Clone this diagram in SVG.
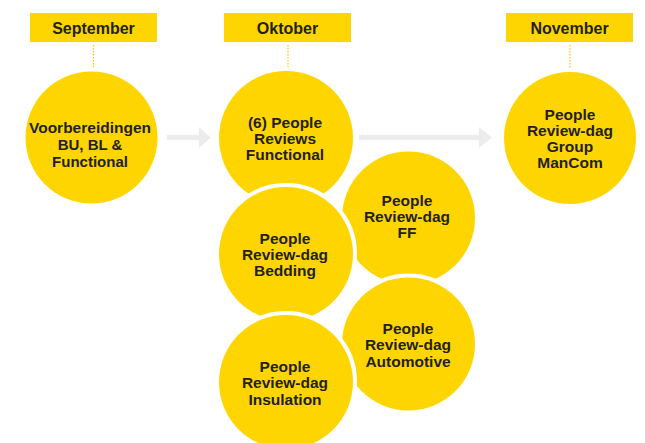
<svg xmlns="http://www.w3.org/2000/svg" width="645" height="443" viewBox="0 0 645 443">
<style>
.hdr{fill:#FFD500}
.c{fill:#FFD500;stroke:#fff;stroke-width:8;paint-order:stroke}
.t{font-family:"Liberation Sans",Arial,sans-serif;font-weight:bold;font-size:15.5px;fill:#231f20;text-anchor:middle}
.dot{stroke:#F5C800;stroke-width:1.2;stroke-dasharray:1.5,1.5;fill:none}
.arr{stroke:#ececec;stroke-width:5;fill:none}
.ah{fill:#ececec}
</style>
<rect width="645" height="443" fill="#fff"/>
<g id="connectors">
  <line class="dot" x1="93.5" y1="45" x2="93.5" y2="72"/>
  <line class="dot" x1="288" y1="45" x2="288" y2="71"/>
  <line class="dot" x1="570" y1="45" x2="570" y2="72"/>
  <line class="arr" x1="167" y1="137.5" x2="200" y2="137.5"/>
  <polygon class="ah" points="199,127 211,137.5 199,148"/>
  <line class="arr" x1="359" y1="137.5" x2="480" y2="137.5"/>
  <polygon class="ah" points="479,127 492,137.5 479,148"/>
</g>
<g id="hdr-september"><rect class="hdr" x="30" y="13" width="127" height="29"/><text class="t" x="93.5" y="34" style="font-size:16px">September</text></g>
<g id="hdr-oktober"><rect class="hdr" x="224" y="13" width="127" height="29"/><text class="t" x="287.5" y="34" style="font-size:16px">Oktober</text></g>
<g id="hdr-november"><rect class="hdr" x="506" y="13" width="127" height="29"/><text class="t" x="569.5" y="34" style="font-size:16px">November</text></g>
<g id="n-voorbereidingen"><circle class="c" cx="91.5" cy="137.5" r="66"/><text class="t" style="font-size:15px"><tspan x="90" y="133" textLength="122" lengthAdjust="spacingAndGlyphs">Voorbereidingen</tspan><tspan x="90" y="150">BU, BL &amp;</tspan><tspan x="90" y="167">Functional</tspan></text></g>
<g id="n-functional"><circle class="c" cx="286" cy="138" r="67"/><text class="t"><tspan x="285" y="128">(6) People</tspan><tspan x="285" y="144">Reviews</tspan><tspan x="285" y="160">Functional</tspan></text></g>
<g id="n-mancom"><circle class="c" cx="570" cy="138" r="66"/><text class="t"><tspan x="570" y="120">People</tspan><tspan x="570" y="136">Review-dag</tspan><tspan x="570" y="152">Group</tspan><tspan x="570" y="168">ManCom</tspan></text></g>
<g id="n-ff"><circle class="c" cx="408.5" cy="218" r="66.5"/><text class="t"><tspan x="407" y="206">People</tspan><tspan x="407" y="222">Review-dag</tspan><tspan x="407" y="238">FF</tspan></text></g>
<g id="n-bedding"><circle class="c" cx="286" cy="254" r="67"/><text class="t"><tspan x="285" y="244">People</tspan><tspan x="285" y="260">Review-dag</tspan><tspan x="285" y="276">Bedding</tspan></text></g>
<g id="n-automotive"><circle class="c" cx="408.5" cy="344" r="66.5"/><text class="t"><tspan x="408" y="334">People</tspan><tspan x="408" y="350">Review-dag</tspan><tspan x="408" y="367">Automotive</tspan></text></g>
<g id="n-insulation"><circle class="c" cx="286" cy="382" r="67"/><text class="t"><tspan x="285" y="372">People</tspan><tspan x="285" y="388">Review-dag</tspan><tspan x="285" y="405">Insulation</tspan></text></g>
</svg>
